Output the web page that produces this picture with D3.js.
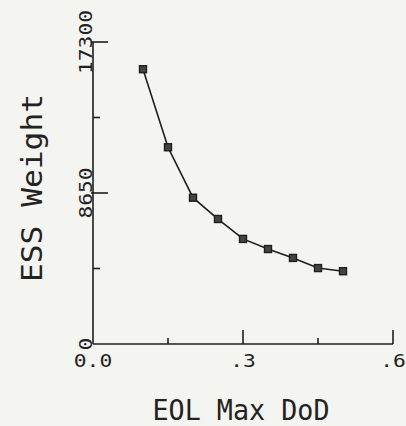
<!DOCTYPE html>
<html><head><meta charset="utf-8">
<script src="https://cdn.jsdelivr.net/npm/d3@7/dist/d3.min.js"></script>
<style>
html,body{margin:0;padding:0;background:#f4f4f1;}
svg{display:block;}
text{font-family:"DejaVu Sans Mono",monospace;fill:#222;}
</style></head><body>
<script>
const dod = [0.10, 0.15, 0.20, 0.25, 0.30, 0.35, 0.40, 0.45, 0.50];
const essWeight = [15740, 11270, 8380, 7160, 6020, 5440, 4930, 4350, 4170];
const xMajorTicks = [0, 0.3, 0.6];
const xMajorLabels = ["0.0", ".3", ".6"];
const xMinorTicks = [0.15, 0.45];
const yMajorTicks = [0, 8650, 17300];
const yMajorLabels = ["0", "8650", "17300"];
const yMinorTicks = [4325, 12975];
const xTitle = "EOL Max DoD";
const yTitle = "ESS Weight";

const W = 406, H = 426;
const svg = d3.select("body").append("svg").attr("width", W).attr("height", H);
const x = d3.scaleLinear().domain([0, 0.6]).range([93, 393]);
const y = d3.scaleLinear().domain([0, 17300]).range([344, 42]);
const ink = "#1e1e1e";

// axes lines
svg.append("line").attr("x1", x(0)).attr("x2", x(0.6)).attr("y1", y(0)).attr("y2", y(0))
  .attr("stroke", ink).attr("stroke-width", 1.6);
svg.append("line").attr("x1", x(0)).attr("x2", x(0)).attr("y1", y(0)).attr("y2", y(17300))
  .attr("stroke", ink).attr("stroke-width", 1.6);

// y ticks
svg.selectAll(".ymaj").data(yMajorTicks.filter(d => d > 0)).enter().append("line")
  .attr("x1", x(0) - 2).attr("x2", x(0) + 15).attr("y1", d => y(d)).attr("y2", d => y(d))
  .attr("stroke", ink).attr("stroke-width", 1.6);
svg.selectAll(".ymin").data(yMinorTicks).enter().append("line")
  .attr("x1", x(0)).attr("x2", x(0) + 7).attr("y1", d => y(d)).attr("y2", d => y(d))
  .attr("stroke", ink).attr("stroke-width", 1.6);
// x ticks
svg.selectAll(".xmaj").data(xMajorTicks.filter(d => d > 0)).enter().append("line")
  .attr("x1", d => x(d)).attr("x2", d => x(d)).attr("y1", y(0)).attr("y2", y(0) - 14)
  .attr("stroke", ink).attr("stroke-width", 1.6);
svg.selectAll(".xmin").data(xMinorTicks).enter().append("line")
  .attr("x1", d => x(d)).attr("x2", d => x(d)).attr("y1", y(0)).attr("y2", y(0) - 6)
  .attr("stroke", ink).attr("stroke-width", 1.6);

// y tick labels (rotated)
yMajorTicks.forEach((t, i) => {
  const lab = yMajorLabels[i];
  svg.append("text")
    .attr("transform", `translate(${x(0) - 1.5},${y(t)}) rotate(-90)`)
    .attr("text-anchor", "middle")
    .attr("font-size", 17)
    .attr("textLength", lab.length * 12.8).attr("lengthAdjust", "spacingAndGlyphs")
    .text(lab);
});
// x tick labels
xMajorTicks.forEach((t, i) => {
  const lab = xMajorLabels[i];
  svg.append("text")
    .attr("x", x(t)).attr("y", y(0) + 23)
    .attr("text-anchor", "middle")
    .attr("font-size", 17)
    .attr("textLength", lab.length * 12.8).attr("lengthAdjust", "spacingAndGlyphs")
    .text(lab);
});

// titles
svg.append("text").attr("x", 241).attr("y", 420).attr("text-anchor", "middle")
  .attr("font-size", 28).attr("textLength", 177).attr("lengthAdjust", "spacingAndGlyphs")
  .text(xTitle);
svg.append("text").attr("transform", "translate(42,188) rotate(-90)").attr("text-anchor", "middle")
  .attr("font-size", 28).attr("textLength", 188).attr("lengthAdjust", "spacingAndGlyphs")
  .text(yTitle);

// line
const line = d3.line().x((d, i) => x(dod[i])).y(d => y(d));
svg.append("path").datum(essWeight).attr("d", line)
  .attr("fill", "none").attr("stroke", ink).attr("stroke-width", 1.6);

// markers
svg.selectAll(".pt").data(essWeight).enter().append("rect")
  .attr("x", (d, i) => x(dod[i]) - 3.5).attr("y", d => y(d) - 3.5)
  .attr("width", 7).attr("height", 7)
  .attr("fill", "#444").attr("stroke", ink).attr("stroke-width", 1.4);
</script>
</body></html>
